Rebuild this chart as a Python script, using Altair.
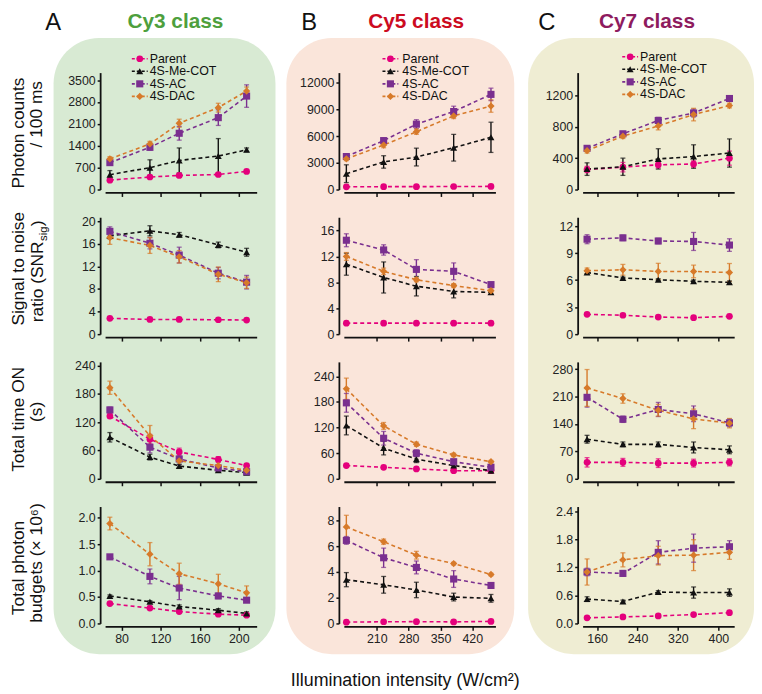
import altair as alt
import pandas as pd

FONT = "Liberation Sans"

# ---------------- series / labels ----------------
series = ["Parent", "4S-Me-COT", "4S-AC", "4S-DAC"]
series_colors = ["#e4007c", "#111111", "#7a2f8f", "#d77a2a"]
series_shapes = ["circle", "triangle-up", "square", "diamond"]
series_sizes = [46, 54, 42, 60]

panel_letters = ["A", "B", "C"]
class_titles = ["Cy3 class", "Cy5 class", "Cy7 class"]
class_colors = ["#4e9f3d", "#cc0b1f", "#8e1b5e"]
bg_colors = ["#d8ead3", "#fae5da", "#efedd3"]

row_title_1 = ["Photon counts", "Signal to noise", "Total time ON", "Total photon"]
row_title_2 = ["/ 100 ms", "ratio (SNR", "(s)", "budgets (\u00d7 10\u2076)"]
snr_sub = ["sig", ")"]
x_title = "Illumination intensity (W/cm\u00b2)"

# ---------------- x values / ticks ----------------
x_cy3 = [68, 109, 139, 179, 208]
x_cy5 = [143, 225, 297, 379, 461]
x_cy7 = [140, 211, 281, 351, 422]
xt_cy3 = [80, 120, 160, 200]
xt_cy5 = [210, 280, 350, 420]
xt_cy7 = [160, 240, 320, 400]

# ---------------- photon counts / 100 ms ----------------
cy3_photon = [[300, 400, 450, 480, 580], [475, 700, 930, 1070, 1270],
              [860, 1350, 1800, 2300, 2990], [980, 1460, 2120, 2620, 3150]]
cy3_photon_err = [[40, 40, 60, 50, 40], [130, 250, 400, 560, 60],
                  [70, 90, 220, 250, 360], [70, 80, 130, 140, 130]]
cy5_photon = [[300, 320, 320, 340, 350], [1780, 3100, 3650, 4700, 5870],
              [3710, 5500, 7350, 8770, 10700], [3450, 5000, 6500, 8280, 9390]]
cy5_photon_err = [[80, 80, 80, 80, 80], [1000, 700, 1000, 1500, 1700],
                  [300, 300, 500, 600, 700], [200, 300, 300, 300, 700]]
cy7_photon = [[255, 285, 315, 325, 400], [260, 290, 390, 420, 465],
              [525, 710, 880, 975, 1160], [495, 680, 810, 955, 1070]]
cy7_photon_err = [[40, 60, 40, 40, 90], [80, 110, 130, 150, 180],
                  [30, 30, 40, 50, 30], [30, 30, 50, 80, 30]]

# ---------------- SNR ----------------
cy3_snr = [[2.8, 2.6, 2.6, 2.55, 2.5], [17.4, 18.3, 17.6, 15.8, 14.5],
           [18.2, 16.1, 14.0, 10.8, 9.2], [17.1, 15.7, 13.7, 10.6, 9.1]]
cy3_snr_err = [[0.1, 0.1, 0.1, 0.1, 0.1], [0.5, 0.9, 0.4, 0.5, 0.7],
               [0.8, 1.0, 1.4, 1.0, 1.2], [1.2, 1.4, 1.1, 1.3, 1.0]]
cy5_snr = [[1.7, 1.7, 1.7, 1.7, 1.7], [10.8, 8.75, 7.4, 6.6, 6.45],
           [14.5, 13.0, 10.0, 9.7, 7.65], [12.0, 9.7, 8.4, 7.5, 6.7]]
cy5_snr_err = [[0.1, 0.1, 0.1, 0.1, 0.1], [1.7, 2.4, 1.5, 1.0, 0.3],
               [1.0, 0.8, 1.5, 1.3, 0.3], [0.6, 0.5, 0.3, 0.3, 0.3]]
cy7_snr = [[2.2, 2.1, 1.9, 1.83, 1.98], [6.85, 6.25, 6.05, 5.87, 5.76],
           [10.55, 10.7, 10.35, 10.3, 9.9], [7.05, 7.15, 6.97, 6.97, 6.85]]
cy7_snr_err = [[0.1, 0.1, 0.1, 0.1, 0.1], [0.15, 0.1, 0.1, 0.15, 0.15],
               [0.5, 0.3, 0.3, 1.0, 0.7], [0.3, 0.6, 0.9, 0.7, 1.0]]

# ---------------- total time ON ----------------
cy3_ton = [[133, 84, 57, 41, 28], [88, 46, 27, 18, 13],
           [146, 67, 42, 23, 15], [193, 91, 38, 28, 18]]
cy3_ton_err = [[5, 10, 8, 6, 4], [10, 6, 4, 3, 2],
               [6, 12, 12, 5, 3], [14, 22, 16, 8, 5]]
cy5_ton = [[31, 27, 23, 19, 19], [125, 72, 46, 31, 19],
           [178, 95, 60, 40, 27], [211, 124, 81, 56, 40]]
cy5_ton_err = [[3, 3, 3, 3, 3], [22, 16, 8, 5, 3],
               [22, 16, 8, 6, 4], [25, 8, 5, 4, 3]]
cy7_ton = [[42, 42, 40, 40, 42], [101, 88, 88, 80, 74],
           [208, 152, 177, 166, 143], [232, 205, 175, 153, 142]]
cy7_ton_err = [[12, 10, 11, 10, 9], [10, 6, 6, 14, 10],
               [25, 8, 18, 20, 10], [47, 12, 15, 25, 12]]

# ---------------- total photon budgets ----------------
cy3_bud = [[0.375, 0.29, 0.225, 0.175, 0.156], [0.52, 0.41, 0.32, 0.25, 0.19],
           [1.26, 0.89, 0.67, 0.52, 0.44], [1.89, 1.31, 0.94, 0.75, 0.58]]
cy3_bud_err = [[0.02, 0.02, 0.02, 0.02, 0.02], [0.02, 0.02, 0.03, 0.03, 0.03],
               [0.03, 0.14, 0.22, 0.05, 0.04], [0.12, 0.22, 0.2, 0.18, 0.13]]
cy5_bud = [[0.1, 0.13, 0.14, 0.12, 0.16], [3.4, 3.0, 2.6, 2.05, 1.95],
           [6.45, 5.1, 4.35, 3.45, 2.95], [7.5, 6.35, 5.3, 4.65, 3.8]]
cy5_bud_err = [[0.03, 0.03, 0.03, 0.03, 0.03], [0.55, 0.65, 0.6, 0.3, 0.3],
               [0.3, 0.75, 0.5, 0.65, 0.1], [0.9, 0.2, 0.3, 0.1, 0.1]]
cy7_bud = [[0.12, 0.14, 0.16, 0.19, 0.23], [0.52, 0.47, 0.67, 0.66, 0.66],
           [1.1, 1.07, 1.52, 1.61, 1.64], [1.1, 1.36, 1.45, 1.46, 1.52]]
cy7_bud_err = [[0.02, 0.02, 0.02, 0.02, 0.02], [0.05, 0.03, 0.03, 0.12, 0.08],
               [0.08, 0.06, 0.25, 0.3, 0.13], [0.28, 0.15, 0.2, 0.33, 0.15]]

# y ticks
yt_photon = [[0, 700, 1400, 2100, 2800, 3500], [0, 3000, 6000, 9000, 12000], [0, 400, 800, 1200]]
yt_snr = [[0, 4, 8, 12, 16, 20], [0, 4, 8, 12, 16], [0, 3, 6, 9, 12]]
yt_ton = [[0, 60, 120, 180, 240], [0, 60, 120, 180, 240], [0, 70, 140, 210, 280]]
yt_bud = [[0.0, 0.5, 1.0, 1.5, 2.0], [0, 2, 4, 6, 8], [0.0, 0.6, 1.2, 1.8, 2.4]]

# ---------------- assembly ----------------
x_vals = [x_cy3, x_cy5, x_cy7]
x_ticks = [xt_cy3, xt_cy5, xt_cy7]
x_domains = [[63.1, 218.3], [137.5, 470.8], [131.2, 431.4]]
values = [[cy3_photon, cy5_photon, cy7_photon], [cy3_snr, cy5_snr, cy7_snr],
          [cy3_ton, cy5_ton, cy7_ton], [cy3_bud, cy5_bud, cy7_bud]]
errors = [[cy3_photon_err, cy5_photon_err, cy7_photon_err], [cy3_snr_err, cy5_snr_err, cy7_snr_err],
          [cy3_ton_err, cy5_ton_err, cy7_ton_err], [cy3_bud_err, cy5_bud_err, cy7_bud_err]]
y_ticks = [yt_photon, yt_snr, yt_ton, yt_bud]
y_tops = [[3741, 13148, 1490], [20.7, 18.05, 12.99], [247.8, 274, 298.5], [2.212, 9.08, 2.5]]
y_formats = [["d", "d", "d"], ["d", "d", "d"], ["d", "d", "d"], [".1f", "d", ".1f"]]

W, H = 153, 118
col_x0 = [105, 346, 587]
row_y0 = [70, 216, 362, 508]

color_enc = alt.Color("series:N", scale=alt.Scale(domain=series, range=series_colors), legend=None)
shape_enc = alt.Shape("series:N", scale=alt.Scale(domain=series, range=series_shapes), legend=None)
size_enc = alt.Size("series:O", scale=alt.Scale(domain=series, range=series_sizes), legend=None)


def text_layer(txt, px, py, col, row, **kw):
    return alt.Chart(pd.DataFrame({"t": [txt]})).mark_text(font=FONT, **kw).encode(
        x=alt.value(px - col_x0[col]), y=alt.value(py - row_y0[row]), text="t:N")


def data_layer(col, row):
    recs = []
    for s, vs, es in zip(series, values[row][col], errors[row][col]):
        for x, v, e in zip(x_vals[col], vs, es):
            recs.append({"series": s, "x": x, "v": v, "lo": v - e, "hi": v + e})
    df = pd.DataFrame(recs)
    xax = alt.Axis(values=x_ticks[col], labels=(row == 3), title=None, offset=3,
                   tickSize=4, labelPadding=2, format="d", zindex=2)
    yax = alt.Axis(values=y_ticks[row][col], format=y_formats[row][col], title=None,
                   offset=5, tickSize=3, labelPadding=2, zindex=2)
    xs = alt.Scale(domain=x_domains[col], nice=False, zero=False)
    ys = alt.Scale(domain=[0, y_tops[row][col]], nice=False)

    def X():
        return alt.X("x:Q", scale=xs, axis=xax)

    def Y(f):
        return alt.Y(f + ":Q", scale=ys, axis=yax)

    base = alt.Chart(df)
    line = base.mark_line(strokeDash=[4, 3], strokeWidth=1.6).encode(x=X(), y=Y("v"), color=color_enc)
    bars = base.mark_rule(strokeWidth=1.4).encode(x=X(), y=Y("lo"), y2="hi:Q", color=color_enc)
    cap_lo = base.mark_tick(orient="horizontal", size=5, thickness=1.3).encode(x=X(), y=Y("lo"), color=color_enc)
    cap_hi = base.mark_tick(orient="horizontal", size=5, thickness=1.3).encode(x=X(), y=Y("hi"), color=color_enc)
    pts = base.mark_point(filled=True, opacity=1).encode(x=X(), y=Y("v"), color=color_enc,
                                                          shape=shape_enc, size=size_enc)
    return alt.layer(line, bars, cap_lo, cap_hi, pts)


leg_sym_x = [140, 393, 635]
leg_txt_x = [150, 405, 645]
leg_y_top = [56, 56, 54]
leg_y_bot = [94, 94, 92]


def legend_layer(col):
    df = pd.DataFrame({"series": series, "k": list(range(len(series)))})
    ly = alt.Y("k:Q", scale=alt.Scale(domain=[0, 3], range=[leg_y_top[col] - row_y0[0],
                                                             leg_y_bot[col] - row_y0[0]], nice=False, zero=False),
               axis=None)
    sx = leg_sym_x[col] - col_x0[col]
    tx = leg_txt_x[col] - col_x0[col]
    base = alt.Chart(df)
    rule = base.mark_rule(strokeDash=[3, 2], strokeWidth=1.6).encode(
        x=alt.value(sx - 8), x2=alt.value(sx + 8), y=ly, color=color_enc)
    pts = base.mark_point(filled=True, opacity=1).encode(
        x=alt.value(sx), y=ly, color=color_enc, shape=shape_enc, size=size_enc)
    txt = base.mark_text(align="left", baseline="middle", fontSize=12.5, font=FONT, color="#111").encode(
        x=alt.value(tx), y=ly, text="series:N")
    return alt.layer(rule, pts, txt)


bg_x = [(53, 277), (288, 518), (532, 760)]
bg_y = (35, 657)
letter_pos = [(52.5, 27), (311, 27), (551, 27)]
class_pos = [(176, 25), (419, 25), (652, 25)]
t1_y = [131, 268, 420, 570]
t2_y = [112, None, 412.5, 565]


def panel(col, row):
    layers = []
    if row == 0:
        layers.append(alt.Chart(pd.DataFrame({"b": [0]})).mark_rect(
            cornerRadius=46, color=bg_colors[col]).encode(
            x=alt.value(bg_x[col][0] - col_x0[col]), x2=alt.value(bg_x[col][1] - col_x0[col]),
            y=alt.value(bg_y[0] - row_y0[0]), y2=alt.value(bg_y[1] - row_y0[0])))
        if col == 0:
            layers.append(alt.Chart(pd.DataFrame({"b": [0]})).mark_rect(opacity=0).encode(
                x=alt.value(7 - col_x0[0]), x2=alt.value(8 - col_x0[0]),
                y=alt.value(8 - row_y0[0]), y2=alt.value(9 - row_y0[0])))
    layers.append(data_layer(col, row))
    if row == 0:
        layers.append(legend_layer(col))
        layers.append(text_layer(panel_letters[col], letter_pos[col][0], letter_pos[col][1], col, 0,
                                 fontSize=24, align="center", baseline="alphabetic", color="#111"))
        layers.append(text_layer(class_titles[col], class_pos[col][0], class_pos[col][1], col, 0,
                                 fontSize=21, fontWeight="bold", align="center", baseline="alphabetic",
                                 color=class_colors[col]))
    if col == 0:
        layers.append(text_layer(row_title_1[row], 18.5, t1_y[row], 0, row, fontSize=17.5, angle=270,
                                 align="center", baseline="middle", color="#111"))
        if row == 1:
            layers.append(text_layer(row_title_2[row], 37, 322, 0, row, fontSize=17.5, angle=270,
                                     align="left", baseline="middle", color="#111"))
            layers.append(text_layer(snr_sub[0], 43, 322 - 82, 0, row, fontSize=11.5, angle=270,
                                     align="left", baseline="middle", color="#111"))
            layers.append(text_layer(snr_sub[1], 37, 322 - 82 - 15, 0, row, fontSize=17.5, angle=270,
                                     align="left", baseline="middle", color="#111"))
        else:
            layers.append(text_layer(row_title_2[row], 36, t2_y[row], 0, row, fontSize=17.5, angle=270,
                                     align="center", baseline="middle", color="#111"))
    if col == 1 and row == 3:
        layers.append(text_layer(x_title, 408, 689, 1, 3, fontSize=18, align="center",
                                 baseline="alphabetic", color="#111"))
    ch = alt.layer(*layers).properties(width=W, height=H)
    if row == 0:
        ch = ch.resolve_scale(y="independent")
    return ch


cells = [panel(c, r) for r in range(4) for c in range(3)]

chart = alt.concat(*cells, columns=3, spacing={"row": 28, "column": 88}, bounds="flush").properties(
    padding=0
).configure_view(stroke=None).configure_axis(
    domainColor="#111", domainWidth=1.8, tickColor="#111", tickWidth=1.5,
    labelColor="#222", labelFont=FONT, labelFontSize=12.5, grid=False
)

chart.save("out.html", embed_options={"renderer": "svg", "actions": False})
